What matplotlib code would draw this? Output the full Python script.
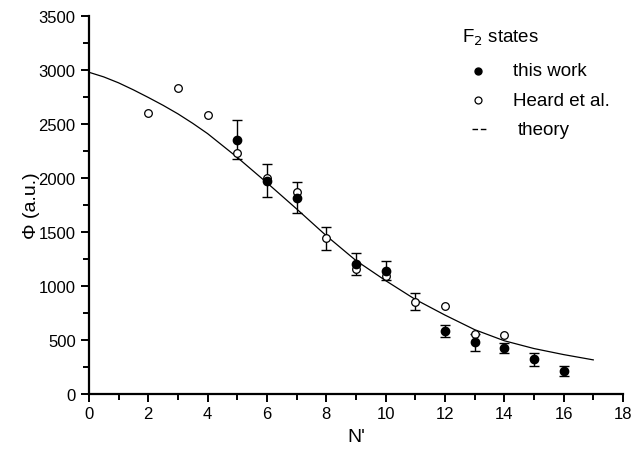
import numpy as np
import matplotlib
matplotlib.use("Agg")
import matplotlib.pyplot as plt
from matplotlib.ticker import MultipleLocator

plt.rcParams['font.family'] = ['Liberation Sans', 'DejaVu Sans']

# this work (filled circles, with error bars)
n_this = [5, 6, 7, 9, 10, 12, 13, 14, 15, 16]
phi_this = [2355, 1975, 1818, 1204, 1142, 583, 478, 423, 321, 213]
err_this = [180, 150, 147, 100, 90, 55, 80, 48, 62, 48]

# Heard et al. (open circles)
n_heard = [2, 3, 4, 5, 6, 7, 8, 9, 10, 11, 12, 13, 14]
phi_heard = [2602, 2830, 2583, 2229, 2000, 1873, 1441, 1157, 1095, 855, 818, 556, 546]
# error bars drawn on the open circles at N'=8 and 11
n_heard_err = [8, 11]
phi_heard_err = [1441, 855]
err_heard = [108, 80]

# theory curve
n_th = [0, 0.5, 1, 1.5, 2, 2.5, 3, 3.5, 4, 5, 6, 7, 8, 9, 10, 11, 12, 13, 14, 15, 16, 17]
phi_th = [2978, 2935, 2880, 2815, 2745, 2672, 2593, 2505, 2410, 2190, 1955, 1713,
          1465, 1235, 1049, 875, 730, 595, 492, 420, 364, 315]

fig = plt.figure(figsize=(6.35, 4.56), dpi=100)
ax = fig.add_axes([0.140, 0.134, 0.841, 0.829])

ax.plot(n_th, phi_th, color='black', lw=0.9)

ax.errorbar(n_this, phi_this, yerr=err_this, fmt='o', color='black',
            ms=6, capsize=3.6, elinewidth=1.0, capthick=1.0)
ax.errorbar(n_heard_err, phi_heard_err, yerr=err_heard, fmt='none',
            ecolor='black', capsize=3.6, elinewidth=1.0, capthick=1.0)
ax.plot(n_heard, phi_heard, 'o', mfc='white', mec='black', ms=5.5, mew=0.9)

ax.set_xlim(0, 18)
ax.set_ylim(0, 3500)
ax.xaxis.set_major_locator(MultipleLocator(2))
ax.xaxis.set_minor_locator(MultipleLocator(1))
ax.yaxis.set_major_locator(MultipleLocator(500))
ax.yaxis.set_minor_locator(MultipleLocator(250))

for s in ['top', 'right']:
    ax.spines[s].set_visible(False)
for s in ['left', 'bottom']:
    ax.spines[s].set_linewidth(1.6)

ax.tick_params(which='major', direction='out', length=6, width=1.4, labelsize=12)
ax.tick_params(which='minor', direction='out', length=4, width=1.4)
ax.tick_params(axis='x', pad=3)

ax.set_xlabel("N'", fontsize=14, labelpad=5)
ax.set_ylabel("Φ (a.u.)", fontsize=14, labelpad=-1)

# legend drawn as text
fig.text(462 / 635, 1 - 38 / 456, r"F$_2$ states", fontsize=13.5, va='center')
fig.text(513 / 635, 1 - 72 / 456, "this work", fontsize=13.5, va='center')
fig.text(513 / 635, 1 - 101 / 456, "Heard et al.", fontsize=13.5, va='center')
fig.text(518 / 635, 1 - 131 / 456, "theory", fontsize=13.5, va='center')
fig.lines.append(plt.Line2D([478 / 635], [1 - 72 / 456], marker='o', color='black',
                            ms=5, transform=fig.transFigure, figure=fig))
fig.lines.append(plt.Line2D([478 / 635], [1 - 101 / 456], marker='o', mfc='white',
                            mec='black', ms=5, mew=0.9, transform=fig.transFigure, figure=fig))
fig.lines.append(plt.Line2D([472 / 635, 486 / 635], [1 - 130 / 456, 1 - 130 / 456],
                            color='black', lw=1.0, ls=(0, (4, 2)),
                            transform=fig.transFigure, figure=fig))

fig.savefig('out.png', dpi=100)
